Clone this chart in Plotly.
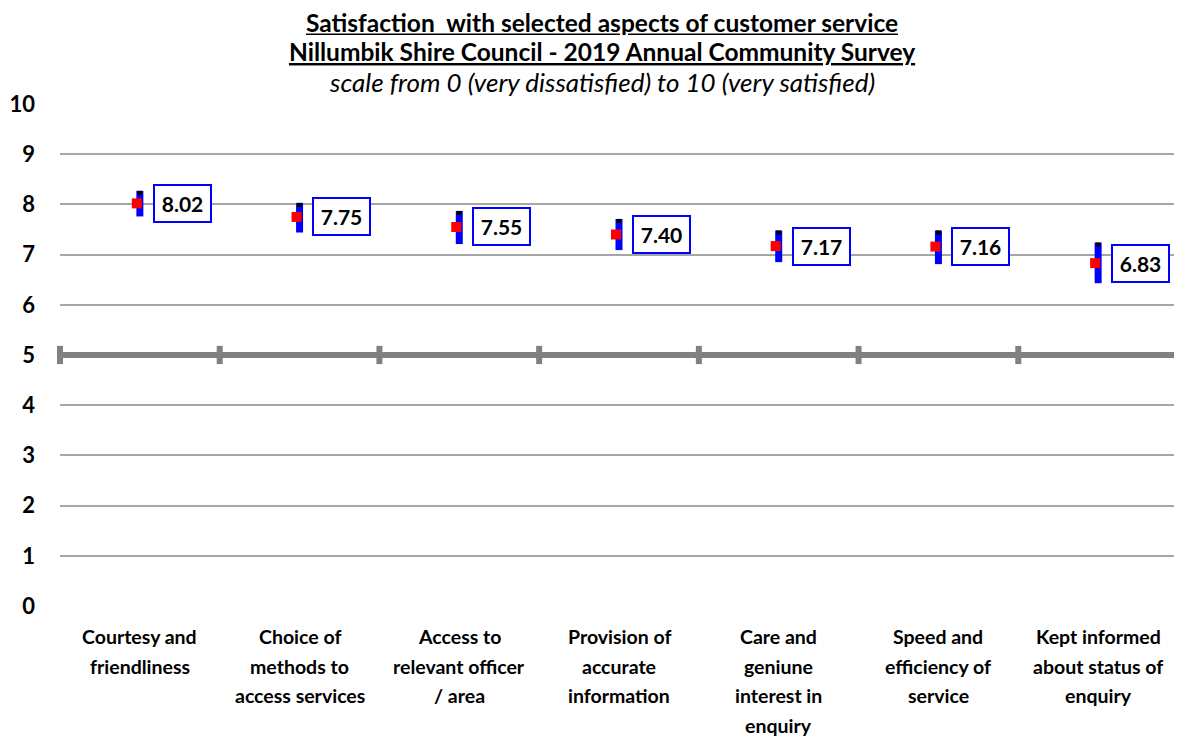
import plotly.graph_objects as go

categories = [
    "Courtesy and<br>friendliness",
    "Choice of<br>methods to<br>access services",
    "Access to<br>relevant officer<br>/ area",
    "Provision of<br>accurate<br>information",
    "Care and<br>geniune<br>interest in<br>enquiry",
    "Speed and<br>efficiency of<br>service",
    "Kept informed<br>about status of<br>enquiry",
]
means = [8.02, 7.75, 7.55, 7.40, 7.17, 7.16, 6.83]
upper = [8.27, 8.03, 7.87, 7.71, 7.48, 7.48, 7.24]
lower = [7.76, 7.44, 7.21, 7.09, 6.85, 6.81, 6.43]
y_ticks = list(range(0, 11))
midpoint = 5

FONT = "Lato"
n = len(categories)
xs = list(range(n))

fig = go.Figure()

# midpoint axis line at 5 with boundary ticks
fig.add_trace(go.Scatter(x=[-0.5, n - 0.5], y=[midpoint, midpoint], mode="lines",
                         line=dict(color="#808080", width=6), hoverinfo="skip", showlegend=False))
fig.add_trace(go.Scatter(x=[i - 0.5 for i in range(n + 1)], y=[midpoint] * (n + 1), mode="markers",
                         marker=dict(symbol="line-ns", size=13, line=dict(color="#808080", width=6)),
                         hoverinfo="skip", showlegend=False, cliponaxis=False))

# range bars
for i in xs:
    fig.add_trace(go.Scatter(x=[i, i], y=[lower[i], upper[i]], mode="lines",
                             line=dict(color="#0000FF", width=7), hoverinfo="skip", showlegend=False))
    fig.add_trace(go.Scatter(x=[i, i], y=[upper[i] - 0.08, upper[i]], mode="lines",
                             line=dict(color="#000000", width=5), hoverinfo="skip", showlegend=False))

# mean markers
fig.add_trace(go.Scatter(x=[i - 0.019 for i in xs], y=means, mode="markers",
                         marker=dict(symbol="square", size=10, color="#FF0000"),
                         showlegend=False))

# value boxes
for i in xs:
    fig.add_annotation(x=i + 0.265, y=means[i], xref="x", yref="y", text=f"<b>{means[i]:.2f}</b>",
                       showarrow=False, font=dict(family=FONT, size=21, color="black"),
                       bgcolor="white", bordercolor="#0000FF", borderwidth=2, borderpad=0,
                       width=55, height=35, align="center", valign="middle")

# category labels (line by line)
line_offsets = [30, 60, 89, 119]
for i, cat in enumerate(categories):
    for j, line in enumerate(cat.split("<br>")):
        fig.add_annotation(x=i, y=0, xref="x", yref="paper", text=f"<b>{line}</b>",
                           showarrow=False, yanchor="middle", xanchor="center",
                           yshift=-line_offsets[j],
                           font=dict(family=FONT, size=19.5, color="black"))

# titles
title_x = (594 - 52) / 1118
fig.add_annotation(x=title_x, y=1, xref="paper", yref="paper", yshift=82, yanchor="middle",
                   height=26, valign="middle",
                   text="<b><u>Satisfaction  with selected aspects of customer service</u></b>",
                   showarrow=False, font=dict(family=FONT, size=24.5, color="black"))
fig.add_annotation(x=title_x, y=1, xref="paper", yref="paper", yshift=53, yanchor="middle",
                   text="<b><u>Nillumbik Shire Council - 2019 Annual Community Survey</u></b>",
                   showarrow=False, font=dict(family=FONT, size=24.5, color="black"))
fig.add_annotation(x=title_x, y=1, xref="paper", yref="paper", yshift=22, yanchor="middle",
                   text="<i>scale from 0 (very dissatisfied) to 10 (very satisfied)</i>",
                   showarrow=False, font=dict(family=FONT, size=26, color="black"))

fig.update_layout(
    width=1174, height=730,
    margin=dict(l=52, r=4, t=96, b=132, autoexpand=False),
    paper_bgcolor="white", plot_bgcolor="white",
    showlegend=False,
    xaxis=dict(range=[-0.5, n - 0.5], showgrid=False, zeroline=False, showticklabels=False,
               showline=False, ticks="", automargin=False),
    yaxis=dict(range=[0, 10], tickvals=y_ticks, ticktext=[f"<b>{v}</b>" for v in y_ticks],
               showgrid=True, gridcolor="#A6A6A6", gridwidth=2, zeroline=False, showline=False,
               ticks="", ticklabelstandoff=24, automargin=False,
               tickfont=dict(family=FONT, size=22, color="black")),
)

fig.write_html("out.html")
